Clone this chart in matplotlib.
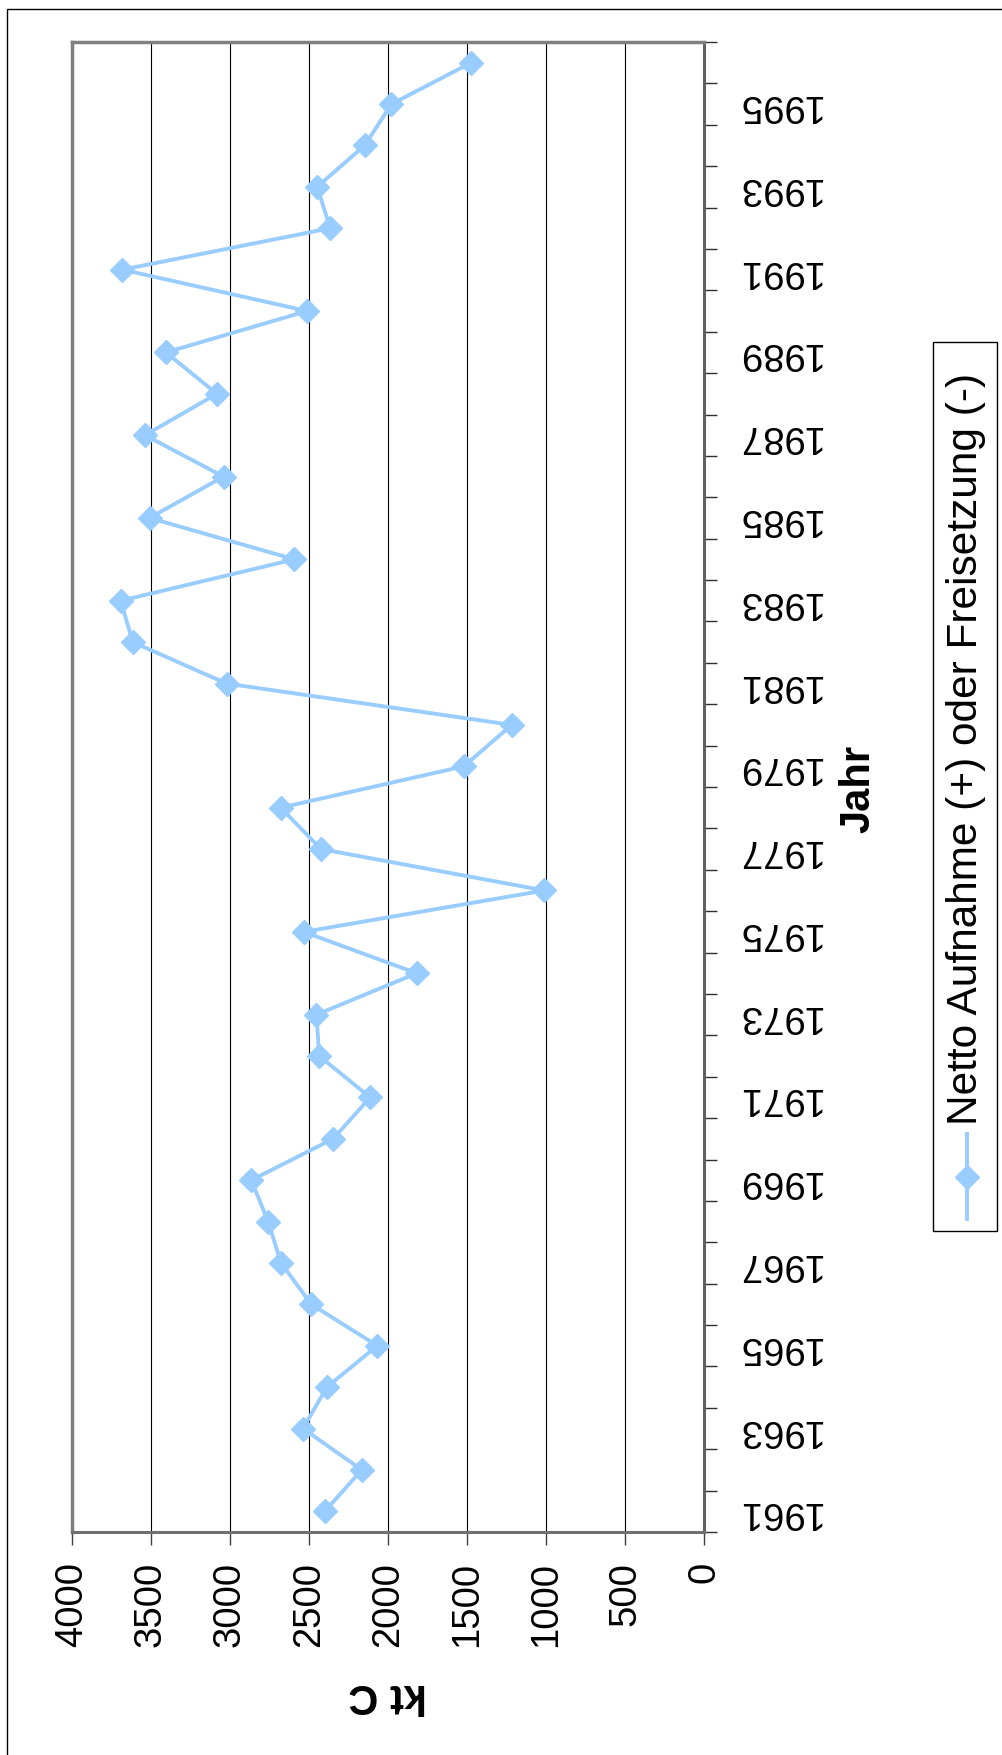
import numpy as np
import matplotlib
matplotlib.use("Agg")
import matplotlib.pyplot as plt
from matplotlib.patches import Rectangle
from matplotlib.lines import Line2D

plt.rcParams['font.family'] = ['Liberation Sans', 'DejaVu Sans']

# ---- data ----
years = list(range(1961, 1997))
values = [2400, 2166, 2538, 2387, 2068, 2485, 2677, 2759, 2865, 2347,
          2113, 2435, 2453, 1818, 2533, 1010, 2424, 2679, 1520, 1217,
          3022, 3615, 3692, 2592, 3509, 3041, 3538, 3083, 3405, 2512,
          3681, 2366, 2448, 2148, 1978, 1473]
value_ticks = [0, 500, 1000, 1500, 2000, 2500, 3000, 3500, 4000]
series_name = "Netto Aufnahme (+) oder Freisetzung (-)"
x_title = "Jahr"
y_title = "kt C"

W, H = 1002, 1756
fig = plt.figure(figsize=(W / 100, H / 100), dpi=100)

def fx(px):
    return px / W

def fy(py):
    return 1 - py / H

line_color = '#99CCFF'

ax = fig.add_axes([fx(72), fy(1533), fx(704) - fx(72), fy(43) - fy(1533)])
pos = np.arange(len(years))
ax.plot(values, pos, color=line_color, lw=2.8, marker='D', ms=12,
        mfc=line_color, mec=line_color, mew=1, zorder=3, clip_on=False)

ax.set_xlim(4000, 0)
ax.set_ylim(-0.5, len(years) - 0.5)

# value axis (bottom)
ax.set_xticks(value_ticks)
ax.set_xticklabels([str(v) for v in value_ticks], rotation=90, fontsize=27.5)
ax.tick_params(axis='x', direction='out', length=9, width=1, color='#404040',
               pad=12)
ax.grid(axis='x', color='black', lw=0.8, zorder=1)

# category axis (right)
ax.yaxis.tick_right()
ax.set_yticks(np.arange(-0.5, len(years)), minor=False)
ax.set_yticklabels([], minor=False)
ax.set_yticks(pos[::2], minor=True)
ax.set_yticklabels([str(y) for y in years[::2]], minor=True, fontsize=27.5,
                   rotation=180)
ax.tick_params(axis='y', which='major', direction='out', length=9.5, width=1,
               color='#303030', right=True, left=False)
ax.tick_params(axis='y', which='minor', length=0, pad=23, right=True, left=False)
for lab in ax.get_yticklabels(minor=True):
    lab.set_ha('left')
    lab.set_va('center')

for s in ['left', 'top']:
    ax.spines[s].set_color('#808080')
    ax.spines[s].set_linewidth(2.5)
ax.spines['bottom'].set_color('#707070')
ax.spines['bottom'].set_linewidth(2.2)
ax.spines['right'].set_color('#606060')
ax.spines['right'].set_linewidth(2.2)

# axis titles
fig.text(fx(858), fy(789), x_title, rotation=90, ha='center', va='center',
         fontsize=30, fontweight='bold')
fig.text(fx(388), fy(1695), y_title, rotation=180, ha='center', va='center',
         fontsize=30, fontweight='bold')

# legend (drawn manually, rotated)
fig.patches.append(Rectangle((fx(933), fy(1232)), fx(997) - fx(933),
                             fy(343) - fy(1232), transform=fig.transFigure,
                             fill=False, edgecolor='black', lw=1))
fig.lines.append(Line2D([fx(967), fx(967)], [fy(1220), fy(1135)],
                        transform=fig.transFigure, color=line_color, lw=2.8))
fig.lines.append(Line2D([fx(967)], [fy(1178)], transform=fig.transFigure,
                        color=line_color, marker='D', ms=12, mfc=line_color,
                        mec=line_color, mew=1, lw=0))
fig.text(fx(966), fy(1125), series_name, rotation=90, ha='center', va='bottom',
         fontsize=30.5)

# outer chart border
fig.patches.append(Rectangle((fx(7), -0.05), 1.1, fy(10) + 0.05,
                             transform=fig.transFigure, fill=False,
                             edgecolor='black', lw=1))

fig.savefig('out.png', dpi=100, facecolor='white')
